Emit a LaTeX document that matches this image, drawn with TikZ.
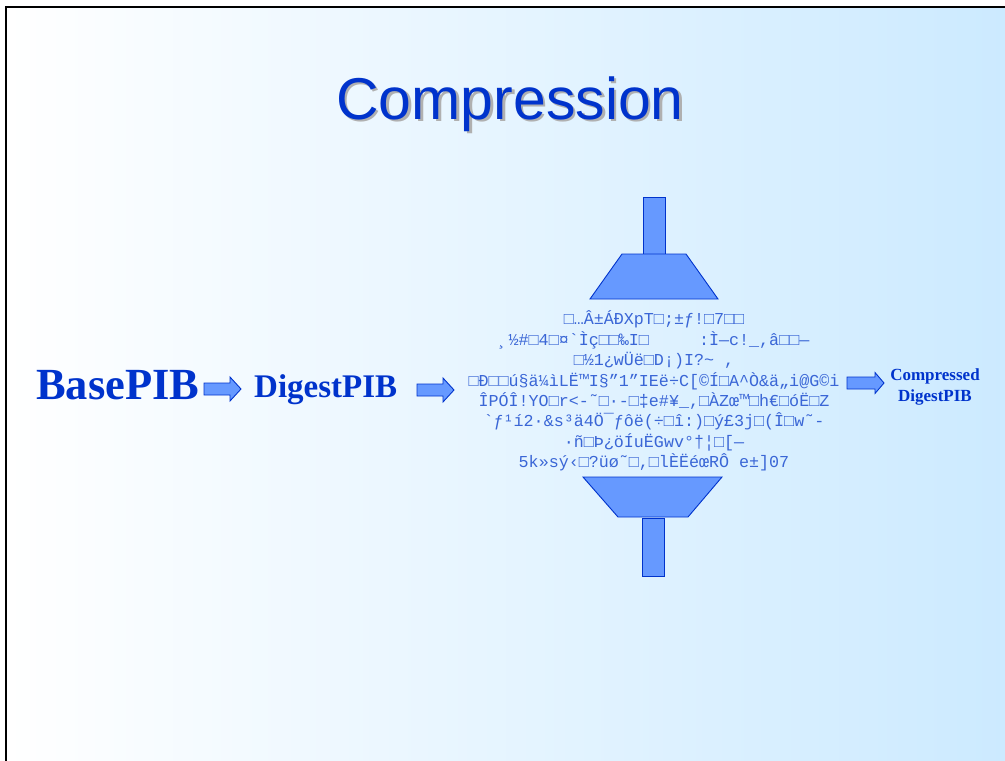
\documentclass[tikz,border=0pt]{standalone}
\usepackage{fontspec}
\setmainfont{Liberation Serif}
\newfontfamily\titlefont{Liberation Sans}
\newfontfamily\garblefont{Liberation Mono}[Ligatures=TeXOff]
\definecolor{ink}{HTML}{0033CC}
\definecolor{codeink}{HTML}{3A66D6}
\definecolor{shapefill}{HTML}{6699FF}
\definecolor{bgblue}{HTML}{CCEAFF}
\definecolor{shadowgray}{HTML}{B0B0B0}
\tikzset{
  blk/.style={fill=shapefill, draw=ink, line width=0.9pt, line join=miter},
  pibtext/.style={inner sep=0pt, text=ink},
  titletext/.style={inner sep=0pt, anchor=base, font=\titlefont\fontsize{59}{61}\selectfont},
  pics/blockarrow/.style n args={2}{code={
    \draw[blk] (0,-6) -- (#1,-6) -- (#1,-#2) -- (37,0) -- (#1,#2) -- (#1,6) -- (0,6) -- cycle;
  }},
}
\begin{document}
\begin{tikzpicture}[x=1pt,y=-1pt]
\useasboundingbox (0,0) rectangle (1005,761);
\fill[white] (0,0) rectangle (1005,761);
% slide background and frame
\shade[left color=white, right color=bgblue] (6.3,6.7) rectangle (1005,761);
\draw[line width=2pt] (6.3,761) -- (6.3,6.7) -- (1005,6.7);

% title with drop shadow
\node[titletext, text=shadowgray] at (512.5,121.5) {Compression};
\node (title) [titletext, text=ink] at (510,119) {Compression};

% pipeline labels
\node (base) [pibtext, anchor=base west, font=\bfseries\fontsize{44.5}{46}\selectfont] at (36,399) {BasePIB};
\node (digest) [pibtext, anchor=base west, font=\bfseries\fontsize{33}{35}\selectfont] at (254,397) {DigestPIB};
\node (out) [pibtext, align=center, font=\bfseries\fontsize{17}{21}\selectfont] at (935,387) {Compressed\\DigestPIB};

% block arrows
\pic at (204,389) {blockarrow={26}{12}};
\pic at (417,390) {blockarrow={26}{12}};
\pic at (847,383) {blockarrow={28}{10.5}};

% press: upper plunger
\draw[blk] (643,197) rectangle (665,254);
\draw[blk] (622,254) -- (686,254) -- (718,299) -- (590,299) -- cycle;
% press: lower plunger
\draw[blk] (583,477) -- (722,477) -- (688,517) -- (618,517) -- cycle;
\draw[blk] (642,518) rectangle (664,576);

% compressed byte stream
\node (code) [pibtext, text=codeink, align=center, font=\garblefont\fontsize{16.7}{20.4}\selectfont] at (654,391) {%
□…Â±ÁÐXpT□;±ƒ!□7□□\\
¸½\#□4□¤`Ìç□□‰I□\ \ \ \ \ :Ì—c!\_,â□□—\\
□½1¿wÜë□D¡)I?\char"7E\ ,\\
□Ð□□ú§ä¼ìLË™I§”1”IEë÷C[©Í□A\char"5E Ò\&ä„i@G©i\\
ÎPÓÎ!YO□r<-˜□·-□‡e\#¥\_,□ÀZœ™□h€□óË□Z\\
`ƒ¹í2·\&s³ä4Ö¯ƒôë(÷□î:)□ý£3j□(Î□w˜-\\
·ñ□Þ¿öÍuËGwv°†¦□[—\\
5k»sý‹□?üø˜□,□lÈËéœRÔ e±]07};
\end{tikzpicture}
\end{document}
